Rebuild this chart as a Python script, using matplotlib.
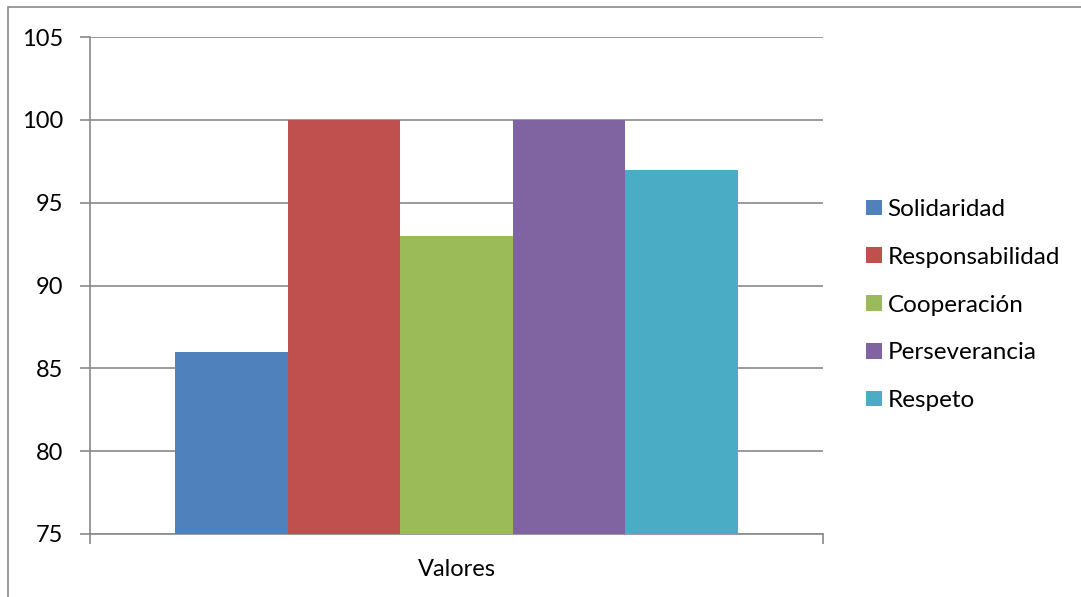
import matplotlib
matplotlib.use("Agg")
from matplotlib import pyplot as plt
from matplotlib.patches import Rectangle

# data
series = ["Solidaridad", "Responsabilidad", "Cooperación", "Perseverancia", "Respeto"]
values = [86, 100, 93, 100, 97]
category = "Valores"
colors = ["#4F81BD", "#C0504D", "#9BBB59", "#8064A2", "#4BACC6"]

plt.rcParams['font.family'] = ['Lato', 'DejaVu Sans']

W, H = 1081, 597
fig = plt.figure(figsize=(W / 100, H / 100), dpi=100)
ax = fig.add_axes([90 / W, 1 - 534 / H, (823 - 90) / W, (534 - 37) / H])

# outer chart border (only left/top visible in reference)
fig.patches.append(Rectangle((8 / W, -0.1), 1.2, 1 - 7 / H + 0.1, transform=fig.transFigure,
                             fill=False, edgecolor="#898989", linewidth=1.2))

gap = (175 - 90) / 733
bw = (1 - 2 * gap) / len(series)
for i, (name, v) in enumerate(zip(series, values)):
    ax.bar(gap + bw * i, v - 75, bottom=75, width=bw, align="edge",
           color=colors[i], label=name, zorder=3)

ax.set_xlim(0, 1)
ax.set_ylim(75, 105)
ax.set_yticks(range(75, 106, 5))
ax.yaxis.grid(True, color="#898989", linewidth=1.2, zorder=0)
ax.set_xticks([0, 1])
ax.set_xticklabels([])
ax.set_xticks([0.5], minor=True)
ax.set_xticklabels([category], minor=True)
ax.tick_params(axis="x", which="minor", length=0, pad=18, labelsize=17)
ax.tick_params(axis="x", which="major", length=7, width=1.2, color="#898989", direction="out")
ax.tick_params(axis="y", length=7, width=1.2, color="#898989", labelsize=17, pad=12)

for s in ["top", "right"]:
    ax.spines[s].set_visible(False)
for s in ["left", "bottom"]:
    ax.spines[s].set_color("#898989")
    ax.spines[s].set_linewidth(1.2)

leg = ax.legend(loc="center left", bbox_to_anchor=(866 / W, 1 - 305 / H),
                bbox_transform=fig.transFigure, frameon=False, fontsize=17.5,
                borderpad=0, borderaxespad=0,
                handlelength=0.64, handleheight=0.62, handletextpad=0.25, labelspacing=1.1)

fig.savefig("out.png", dpi=100)
